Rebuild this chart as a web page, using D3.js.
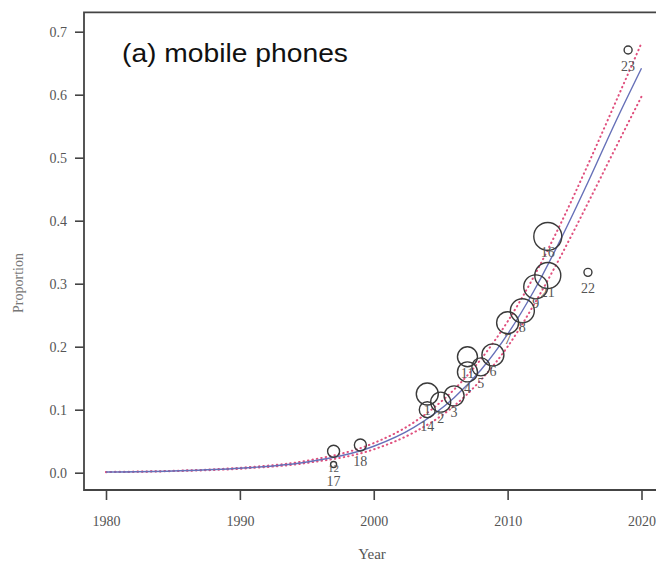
<!DOCTYPE html>
<html>
<head>
<meta charset="utf-8">
<script src="https://cdn.jsdelivr.net/npm/d3@7"></script>
<style>
  body { margin: 0; background: #fff; }
  svg { display: block; }
</style>
</head>
<body>
<div id="viz_container"></div>
<script>
// observed points: label, year, proportion, weight (bubble size)
const pointLabels = ["12", "17", "18", "1", "14", "2", "3", "4", "11", "5", "6", "7", "8", "9", "21", "16", "22", "23"];
const pointYears  = [1997, 1997, 1999, 2004, 2004, 2005, 2006, 2007, 2007, 2008, 2008.9, 2010, 2011.1, 2012.1, 2013, 2013, 2016, 2019];
const pointValues = [0.034, 0.013, 0.044, 0.125, 0.100, 0.112, 0.122, 0.160, 0.184, 0.168, 0.187, 0.238, 0.257, 0.295, 0.313, 0.375, 0.318, 0.671];
const pointWeights = [36, 9, 36, 121, 64, 100, 100, 100, 100, 81, 121, 121, 144, 144, 169, 196, 16, 16];

// fitted curve and its dotted bands
const fitYears = [1980, 1985, 1990, 1995, 2000, 2003, 2006, 2008, 2010, 2012, 2014, 2016, 2018, 2020];
const fitMid   = [0.001, 0.0028, 0.007, 0.017, 0.042, 0.072, 0.119, 0.163, 0.220, 0.290, 0.372, 0.461, 0.554, 0.642];
const fitUpper = [0.0012, 0.003, 0.0078, 0.019, 0.047, 0.080, 0.132, 0.180, 0.240, 0.313, 0.397, 0.489, 0.585, 0.682];
const fitLower = [0.0009, 0.0025, 0.0063, 0.0155, 0.037, 0.064, 0.106, 0.147, 0.200, 0.268, 0.345, 0.428, 0.513, 0.597];

// tick values
const xTicks = [1980, 1990, 2000, 2010, 2020];
const yTicks = [0.0, 0.1, 0.2, 0.3, 0.4, 0.5, 0.6, 0.7];

var width = 656, height = 562;
var frame = {left: 84, top: 12.3, bottom: 490};

var svg = d3.select("#viz_container").append("svg")
    .attr("width", width)
    .attr("height", height);

var x = d3.scaleLinear().domain([1980, 2020]).range([106, 641.5]);
var y = d3.scaleLinear().domain([0, 0.7]).range([472.7, 31.7]);
var r = d3.scaleSqrt().domain([0, 196]).range([0, 14]);

var serif = "'Liberation Serif', 'Times New Roman', serif";

// box round the plot (right side runs off the page)
svg.append("path")
    .attr("d", "M" + (width + 10) + "," + frame.top + "H" + frame.left + "V" + frame.bottom + "H" + (width + 10))
    .attr("fill", "none")
    .attr("stroke", "#444")
    .attr("stroke-width", 1.8);

// y axis
var yAxis = svg.append("g")
    .attr("transform", "translate(" + frame.left + ",0)")
    .call(d3.axisLeft(y).tickValues(yTicks).tickSize(9).tickPadding(8).tickFormat(d3.format(".1f")));
yAxis.select(".domain").remove();

// x axis
var xAxis = svg.append("g")
    .attr("transform", "translate(0," + frame.bottom + ")")
    .call(d3.axisBottom(x).tickValues(xTicks).tickSize(10).tickPadding(16).tickFormat(d3.format("d")));
xAxis.select(".domain").remove();

svg.selectAll(".tick line").attr("stroke", "#444").attr("stroke-width", 1.6);
svg.selectAll(".tick text")
    .attr("fill", "#555")
    .style("font-family", serif)
    .style("font-size", "14px");

// axis titles
svg.append("text")
    .attr("transform", "translate(23,283) rotate(-90)")
    .attr("text-anchor", "middle")
    .attr("fill", "#777")
    .style("font-family", serif)
    .style("font-size", "14px")
    .text("Proportion");

svg.append("text")
    .attr("x", 372)
    .attr("y", 559)
    .attr("text-anchor", "middle")
    .attr("fill", "#555")
    .style("font-family", serif)
    .style("font-size", "15px")
    .text("Year");

// panel title
svg.append("text")
    .attr("x", 122)
    .attr("y", 62)
    .attr("textLength", 226)
    .attr("lengthAdjust", "spacingAndGlyphs")
    .attr("fill", "#111")
    .style("font-family", "'Liberation Sans', Arial, sans-serif")
    .style("font-size", "25px")
    .text("(a) mobile phones");

// curves
var line = d3.line()
    .x(function(d) { return x(d[0]); })
    .y(function(d) { return y(d[1]); })
    .curve(d3.curveMonotoneX);

[fitUpper, fitLower].forEach(function(band) {
    svg.append("path")
        .datum(fitYears.map(function(yr, i) { return [yr, band[i]]; }))
        .attr("d", line)
        .attr("fill", "none")
        .attr("stroke", "#e0507e")
        .attr("stroke-width", 2)
        .attr("stroke-linecap", "round")
        .attr("stroke-dasharray", "0.5,4");
});

svg.append("path")
    .datum(fitYears.map(function(yr, i) { return [yr, fitMid[i]]; }))
    .attr("d", line)
    .attr("fill", "none")
    .attr("stroke", "#6670b8")
    .attr("stroke-width", 1.4);

// bubbles
var points = pointLabels.map(function(lab, i) {
    return {label: lab, year: pointYears[i], value: pointValues[i], weight: pointWeights[i]};
});

svg.selectAll(".pt")
    .data(points)
  .enter().append("circle")
    .attr("class", "pt")
    .attr("cx", function(d) { return x(d.year); })
    .attr("cy", function(d) { return y(d.value); })
    .attr("r", function(d) { return r(d.weight); })
    .attr("fill", "none")
    .attr("stroke", "#3a3a3a")
    .attr("stroke-width", 1.4);

svg.selectAll(".lab")
    .data(points)
  .enter().append("text")
    .attr("class", "lab")
    .attr("x", function(d) { return x(d.year); })
    .attr("y", function(d) { return y(d.value) + 21; })
    .attr("text-anchor", "middle")
    .attr("fill", "#555")
    .style("font-family", serif)
    .style("font-size", function(d) { return d.label === "12" ? "11px" : "14px"; })
    .text(function(d) { return d.label; });
</script>
</body>
</html>
